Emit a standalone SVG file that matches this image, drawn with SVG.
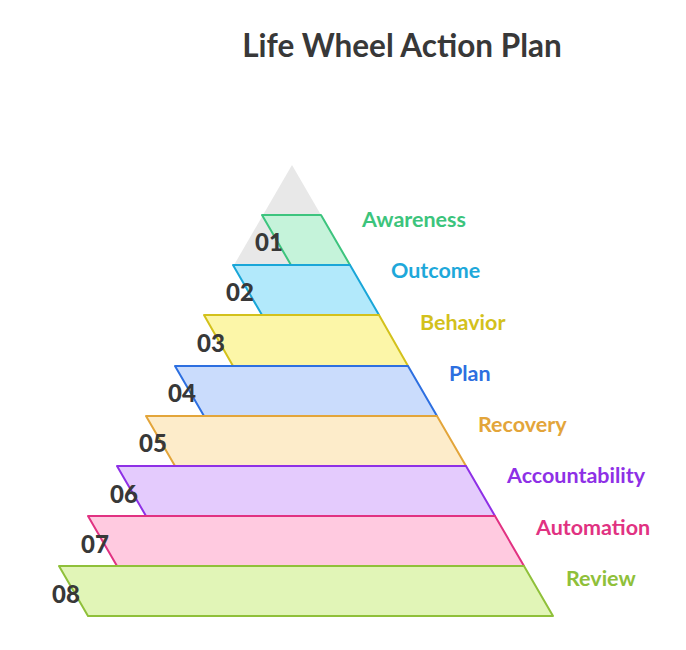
<svg xmlns="http://www.w3.org/2000/svg" width="686" height="650" viewBox="0 0 686 650">
<style>
.t{font-family:Lato,"Open Sans","Liberation Sans",sans-serif;font-weight:700}
.title{font-size:31.5px;fill:#383838}
.num{font-size:24px;fill:#383838;font-weight:900}
.lbl{font-size:21.5px}
.band{stroke-width:2;stroke-linejoin:round}
</style>
<rect width="686" height="650" fill="#ffffff"/>
<text class="t title" x="402" y="57" text-anchor="middle">Life Wheel Action Plan</text>
<polygon points="292,165 350,265 234,265" fill="#e8e8e8"/>
<g id="band1"><polygon class="band" points="262,215 321,215 350,265 291,265" fill="#c5f3da" stroke="#3dc47e"/><text class="t lbl" x="362" y="227" fill="#3cc47c">Awareness</text></g>
<g id="band2"><polygon class="band" points="233,265 350,265 379,315 262,315" fill="#b2e9fb" stroke="#1aa6d8"/><text class="t lbl" x="391" y="278" fill="#1ea8da">Outcome</text></g>
<g id="band3"><polygon class="band" points="204,315 379,315 408,366 233,366" fill="#fcf6a8" stroke="#d3c11c"/><text class="t lbl" x="420" y="330" fill="#d3c11c">Behavior</text></g>
<g id="band4"><polygon class="band" points="175,366 408,366 437,416 204,416" fill="#cadcfc" stroke="#2d6fe0"/><text class="t lbl" x="449" y="381" fill="#2d6fe0">Plan</text></g>
<g id="band5"><polygon class="band" points="146,416 437,416 466,466 175,466" fill="#fdecca" stroke="#e3a53a"/><text class="t lbl" x="478" y="432" fill="#e3a53a">Recovery</text></g>
<g id="band6"><polygon class="band" points="117,466 466,466 495,516 146,516" fill="#e4cbfd" stroke="#8e30e6"/><text class="t lbl" x="507" y="483" fill="#8e30e6">Accountability</text></g>
<g id="band7"><polygon class="band" points="88,516 495,516 524,566 117,566" fill="#ffcae0" stroke="#e13282"/><text class="t lbl" x="536" y="535" fill="#e13282">Automation</text></g>
<g id="band8"><polygon class="band" points="59,566 524,566 553,616 88,616" fill="#e1f5b7" stroke="#8fc03a"/><text class="t lbl" x="566" y="586" fill="#8fc03a">Review</text></g>
<g id="numbers">
<text class="t num" x="255" y="251">01</text>
<text class="t num" x="226" y="301">02</text>
<text class="t num" x="197" y="352">03</text>
<text class="t num" x="168" y="402">04</text>
<text class="t num" x="139" y="452">05</text>
<text class="t num" x="110" y="503">06</text>
<text class="t num" x="81" y="553">07</text>
<text class="t num" x="52" y="603">08</text>
</g>
</svg>
